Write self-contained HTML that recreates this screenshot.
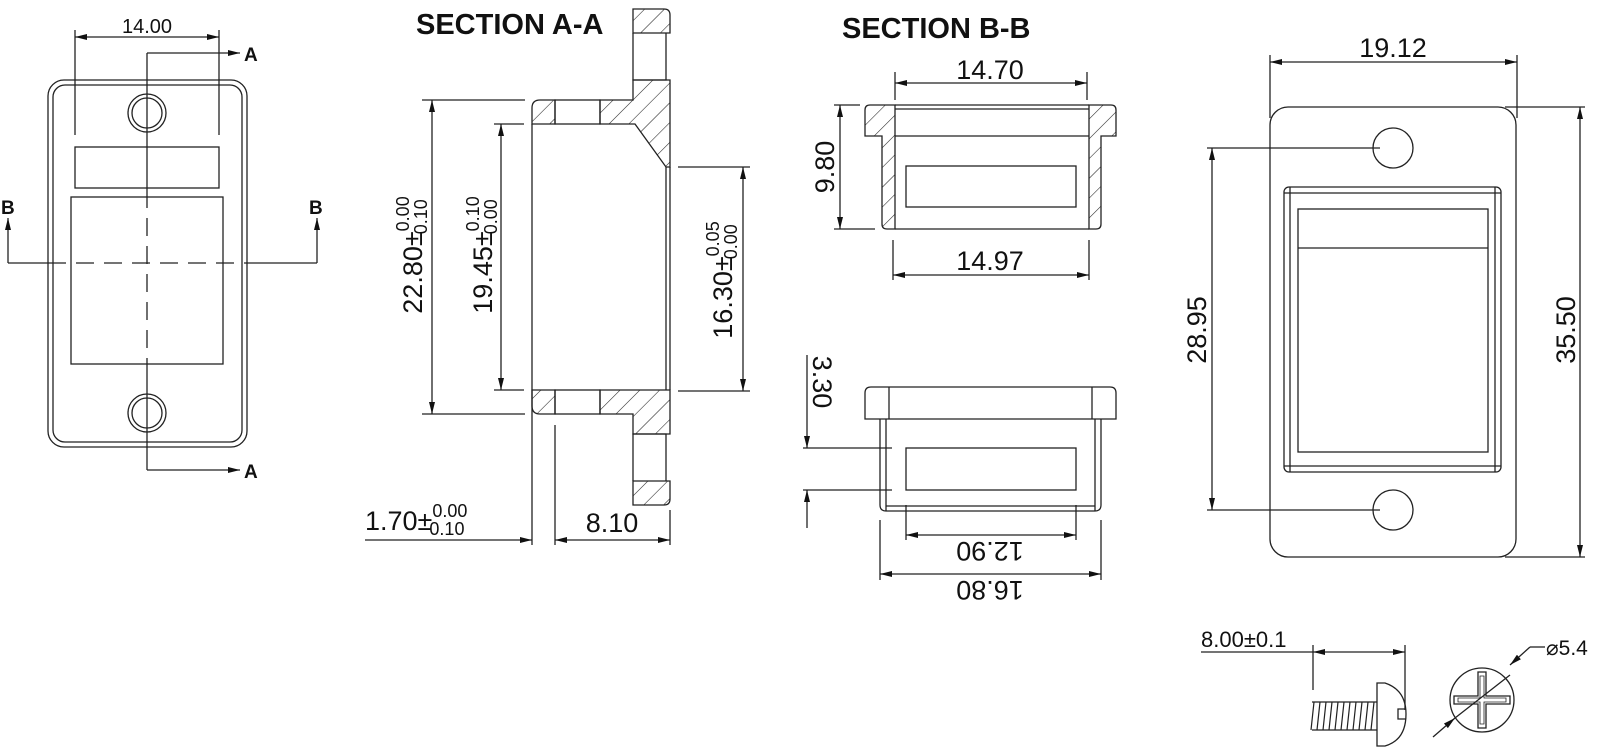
<!DOCTYPE html>
<html><head><meta charset="utf-8"><style>
html,body{margin:0;padding:0;background:#fff}
svg{display:block}
text{font-family:"Liberation Sans",Arial,sans-serif;fill:#111}
</style></head><body>
<svg width="1600" height="752" viewBox="0 0 1600 752" xmlns="http://www.w3.org/2000/svg">
<defs>
<pattern id="h" patternUnits="userSpaceOnUse" width="14" height="14" patternTransform="rotate(45)">
<line x1="0" y1="0" x2="0" y2="14" stroke="#222" stroke-width="1.1"/>
</pattern>
<marker id="ar" viewBox="0 0 12 6" refX="12" refY="3" markerWidth="12" markerHeight="6" orient="auto-start-reverse" markerUnits="userSpaceOnUse">
<path d="M0,0 L12,3 L0,6 z" fill="#111"/>
</marker>
</defs>
<g stroke="#222" stroke-width="1.3" fill="none">

<!-- LEFT VIEW -->
<rect x="48" y="80" width="199" height="367" rx="16"/>
<rect x="53" y="85" width="189" height="357" rx="12"/>
<circle cx="147" cy="113" r="19"/><circle cx="147" cy="113" r="15"/>
<circle cx="147" cy="413" r="19"/><circle cx="147" cy="413" r="15"/>
<rect x="75" y="147" width="144" height="41"/>
<rect x="71" y="197" width="152" height="167"/>
<line x1="75" y1="30" x2="75" y2="135"/><line x1="219" y1="30" x2="219" y2="135"/>
<line x1="75" y1="37" x2="219" y2="37" marker-start="url(#ar)" marker-end="url(#ar)"/>
<line x1="147" y1="53" x2="147" y2="190"/>
<line x1="147" y1="190" x2="147" y2="364" stroke-dasharray="18,10"/>
<line x1="147" y1="364" x2="147" y2="470"/>
<line x1="147" y1="53" x2="240" y2="53" marker-end="url(#ar)"/>
<line x1="147" y1="470" x2="240" y2="470" marker-end="url(#ar)"/>
<line x1="8" y1="263" x2="48" y2="263"/>
<line x1="48" y1="263" x2="247" y2="263" stroke-dasharray="18,10"/>
<line x1="247" y1="263" x2="317" y2="263"/>
<line x1="8" y1="263" x2="8" y2="218" marker-end="url(#ar)"/>
<line x1="317" y1="263" x2="317" y2="218" marker-end="url(#ar)"/>

<!-- SECTION A-A -->
<path d="M633,9 H664 Q670,9 670,15 V33 H633 Z" fill="url(#h)"/>
<path d="M633,33 V80 H666 V33"/>
<path d="M633,80 H670 V167 H666 L635,124 H600 V100 H633 Z" fill="url(#h)"/>
<path d="M540,100 H555 V124 H532 V108 Q532,100 540,100 Z" fill="url(#h)"/>
<rect x="555" y="100" width="45" height="24"/>
<path d="M633,505 H664 Q670,505 670,499 V481 H633 Z" fill="url(#h)"/>
<path d="M633,481 V434 H666 V481"/>
<path d="M633,434 H670 V390 H600 V414 H633 Z" fill="url(#h)"/>
<path d="M540,414 H555 V390 H532 V406 Q532,414 540,414 Z" fill="url(#h)"/>
<rect x="555" y="390" width="45" height="24"/>
<line x1="532" y1="124" x2="532" y2="545"/>
<line x1="670" y1="167" x2="670" y2="390"/>
<line x1="666" y1="167" x2="666" y2="390"/>
<line x1="555" y1="425" x2="555" y2="545"/>
<line x1="670" y1="510" x2="670" y2="545"/>
<line x1="422" y1="100" x2="525" y2="100"/><line x1="422" y1="414" x2="525" y2="414"/>
<line x1="432" y1="100" x2="432" y2="414" marker-start="url(#ar)" marker-end="url(#ar)"/>
<line x1="494" y1="124" x2="524" y2="124"/><line x1="494" y1="390" x2="524" y2="390"/>
<line x1="501" y1="124" x2="501" y2="390" marker-start="url(#ar)" marker-end="url(#ar)"/>
<line x1="678" y1="167" x2="750" y2="167"/><line x1="678" y1="391" x2="750" y2="391"/>
<line x1="743" y1="167" x2="743" y2="391" marker-start="url(#ar)" marker-end="url(#ar)"/>
<line x1="365" y1="540" x2="532" y2="540" marker-end="url(#ar)"/>
<line x1="555" y1="540" x2="670" y2="540" marker-start="url(#ar)" marker-end="url(#ar)"/>

<!-- SECTION B-B top -->
<path d="M870,105 Q865,105 865,110 V136 H882 V224 Q882,229 887,229 H895 V105 Z" fill="url(#h)"/>
<path d="M1111,105 Q1116,105 1116,110 V136 H1101 V224 Q1101,229 1096,229 H1089 V105 Z" fill="url(#h)"/>
<line x1="895" y1="105" x2="1089" y2="105"/>
<line x1="895" y1="109" x2="1089" y2="109"/>
<line x1="895" y1="136" x2="1089" y2="136"/>
<line x1="895" y1="229" x2="1089" y2="229"/>
<rect x="906" y="166" width="170" height="41"/>
<line x1="895" y1="72" x2="895" y2="100"/><line x1="1087" y1="72" x2="1087" y2="100"/>
<line x1="895" y1="83" x2="1087" y2="83" marker-start="url(#ar)" marker-end="url(#ar)"/>
<line x1="834" y1="105" x2="860" y2="105"/><line x1="834" y1="229" x2="875" y2="229"/>
<line x1="840" y1="105" x2="840" y2="229" marker-start="url(#ar)" marker-end="url(#ar)"/>
<line x1="893" y1="240" x2="893" y2="280"/><line x1="1089" y1="240" x2="1089" y2="280"/>
<line x1="893" y1="275" x2="1089" y2="275" marker-start="url(#ar)" marker-end="url(#ar)"/>

<!-- SECTION B-B bottom -->
<path d="M871,387 H1110 Q1116,387 1116,393 V419 H865 V393 Q865,387 871,387 Z"/>
<line x1="889" y1="387" x2="889" y2="419"/><line x1="1092" y1="387" x2="1092" y2="419"/>
<path d="M880,419 V505 Q880,511 886,511 H1095 Q1101,511 1101,505 V419"/>
<line x1="886" y1="419" x2="886" y2="511"/><line x1="1095" y1="419" x2="1095" y2="511"/>
<line x1="886" y1="506" x2="1095" y2="506"/>
<rect x="906" y="448" width="170" height="42"/>
<line x1="803" y1="448" x2="892" y2="448"/><line x1="803" y1="490" x2="892" y2="490"/>
<line x1="807" y1="355" x2="807" y2="448" marker-end="url(#ar)"/>
<line x1="807" y1="528" x2="807" y2="490" marker-end="url(#ar)"/>
<line x1="906" y1="505" x2="906" y2="540"/><line x1="1076" y1="505" x2="1076" y2="540"/>
<line x1="906" y1="535" x2="1076" y2="535" marker-start="url(#ar)" marker-end="url(#ar)"/>
<line x1="880" y1="520" x2="880" y2="580"/><line x1="1101" y1="520" x2="1101" y2="580"/>
<line x1="880" y1="574" x2="1101" y2="574" marker-start="url(#ar)" marker-end="url(#ar)"/>

<!-- RIGHT VIEW -->
<rect x="1270" y="107" width="246" height="450" rx="18"/>
<circle cx="1393" cy="148" r="20"/><circle cx="1393" cy="510" r="20"/>
<rect x="1284" y="187" width="217" height="285" rx="5"/>
<line x1="1290" y1="187" x2="1290" y2="472"/><line x1="1495" y1="187" x2="1495" y2="472"/>
<line x1="1284" y1="193" x2="1501" y2="193"/><line x1="1284" y1="466" x2="1501" y2="466"/>
<rect x="1298" y="209" width="190" height="243"/>
<line x1="1298" y1="248" x2="1488" y2="248"/>
<line x1="1270" y1="55" x2="1270" y2="118"/><line x1="1517" y1="55" x2="1517" y2="118"/>
<line x1="1270" y1="62" x2="1517" y2="62" marker-start="url(#ar)" marker-end="url(#ar)"/>
<line x1="1207" y1="148" x2="1380" y2="148"/><line x1="1207" y1="510" x2="1380" y2="510"/>
<line x1="1212" y1="148" x2="1212" y2="510" marker-start="url(#ar)" marker-end="url(#ar)"/>
<line x1="1505" y1="107" x2="1585" y2="107"/><line x1="1505" y1="557" x2="1585" y2="557"/>
<line x1="1580" y1="107" x2="1580" y2="557" marker-start="url(#ar)" marker-end="url(#ar)"/>

<!-- SCREW -->
<line x1="1201" y1="652" x2="1313" y2="652"/>
<line x1="1313" y1="652" x2="1405" y2="652" marker-start="url(#ar)" marker-end="url(#ar)"/>
<line x1="1313" y1="645" x2="1313" y2="690"/><line x1="1405" y1="645" x2="1405" y2="710"/>
<path d="M1312,702 H1377 M1312,730 H1377 M1377,683 V746 H1385 Q1406,740 1406,714 Q1406,690 1385,683 Z M1406,709 H1398 V719 H1406"/>
<g stroke-width="1.2">
<path d="M1314,702 l-3,28 M1320,702 l-3,28 M1326,702 l-3,28 M1332,702 l-3,28 M1338,702 l-3,28 M1344,702 l-3,28 M1350,702 l-3,28 M1356,702 l-3,28 M1362,702 l-3,28 M1368,702 l-3,28 M1374,702 l-3,28"/>
</g>
<circle cx="1482" cy="700" r="32"/>
<path d="M1478,672 H1486 V696 H1510 V704 H1486 V728 H1478 V704 H1454 V696 H1478 Z"/>
<path d="M1480,676 H1484 V698 H1506 V702 H1484 V724 H1480 V702 H1458 V698 H1480 Z" stroke-width="0.8"/>
<line x1="1433" y1="737" x2="1455" y2="718" marker-end="url(#ar)"/>
<line x1="1455" y1="718" x2="1510" y2="675"/>
<line x1="1530" y1="647" x2="1510" y2="665" marker-end="url(#ar)"/>
<line x1="1530" y1="647" x2="1545" y2="647"/>
</g>

<!-- TEXT -->
<text x="147" y="33" font-size="20" text-anchor="middle">14.00</text>
<g font-size="19" font-weight="bold">
<text x="244" y="61">A</text><text x="244" y="478">A</text>
<text x="1" y="214">B</text><text x="309" y="214">B</text>
</g>
<text x="416" y="34" font-size="29" font-weight="bold">SECTION A-A</text>
<text x="842" y="38" font-size="29" font-weight="bold">SECTION B-B</text>
<g font-size="27">
<text transform="translate(422,255) rotate(-90)" text-anchor="middle">22.80±<tspan font-size="18" dy="-13">0.00</tspan><tspan font-size="18" dx="-38" dy="18">0.10</tspan></text>
<text transform="translate(492,255) rotate(-90)" text-anchor="middle">19.45±<tspan font-size="18" dy="-13">0.10</tspan><tspan font-size="18" dx="-38" dy="18">0.00</tspan></text>
<text transform="translate(732,280) rotate(-90)" text-anchor="middle">16.30±<tspan font-size="18" dy="-13">0.05</tspan><tspan font-size="18" dx="-38" dy="18">0.00</tspan></text>
<text x="365" y="530">1.70±<tspan font-size="18" dy="-13">0.00</tspan><tspan font-size="18" dx="-38" dy="18">0.10</tspan></text>
<text x="612" y="532" text-anchor="middle">8.10</text>
<text x="990" y="79" text-anchor="middle">14.70</text>
<text transform="translate(834,167) rotate(-90)" text-anchor="middle">9.80</text>
<text x="990" y="270" text-anchor="middle">14.97</text>
<text transform="translate(813,382) rotate(90)" text-anchor="middle">3.30</text>
<text transform="translate(990,542) rotate(180)" text-anchor="middle">12.90</text>
<text transform="translate(990,581) rotate(180)" text-anchor="middle">16.80</text>
<text x="1393" y="57" text-anchor="middle">19.12</text>
<text transform="translate(1206,330) rotate(-90)" text-anchor="middle">28.95</text>
<text transform="translate(1575,330) rotate(-90)" text-anchor="middle">35.50</text>
</g>
<text x="1201" y="647" font-size="22">8.00±0.1</text>
<text x="1546" y="655" font-size="21">⌀5.4</text>
</svg>
</body></html>
